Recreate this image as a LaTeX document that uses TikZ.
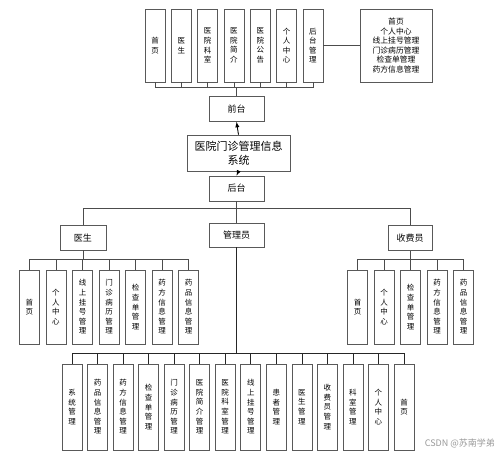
\documentclass[tikz,border=0pt]{standalone}
\usepackage{fontspec}
\setmainfont{Noto Sans CJK SC}
\usetikzlibrary{arrows,positioning}

\begin{document}
\begin{tikzpicture}
	[x=1pt,y=-1pt,>=latex,line width=0.6pt,
		vbox/.style={rectangle,draw=black!65,inner sep=0pt,minimum width=20pt,align=center,font=\fontsize{7.5}{9.6}\selectfont},
		mid node/.style={rectangle,draw=black!65,inner sep=0pt,minimum width=55pt,minimum height=25pt,font=\fontsize{9}{9}\selectfont},
		link/.style={draw=black!70},
		tree/.style={to path={-- ++(0,#1) -| (\tikztotarget)}}]

	\path[use as bounding box,fill=white] (0,0) rectangle (499,455);

	% front pages
	\begin{scope}[node distance=26.33pt,every node/.append style={minimum height=73pt}]
	\node[vbox] (t1) at (155,45.5) {首\\页};
	\node[vbox] [right of=t1] (t2) {医\\生};
	\node[vbox] [right of=t2] (t3) {医\\院\\科\\室};
	\node[vbox] [right of=t3] (t4) {医\\院\\简\\介};
	\node[vbox] [right of=t4] (t5) {医\\院\\公\\告};
	\node[vbox] [right of=t5] (t6) {个\\人\\中\\心};
	\node[vbox] [right of=t6] (t7) {后\\台\\管\\理};
	\end{scope}
	\node[vbox,minimum width=72pt,minimum height=73pt,font=\fontsize{7.8}{9.5}\selectfont] (menu) at (396,45.5)
		{首页\\个人中心\\线上挂号管理\\门诊病历管理\\检查单管理\\药方信息管理};

	\node[mid node] (front) at (236.5,109) {前台};
	\node[mid node,minimum width=103pt,minimum height=36pt,align=center,font=\fontsize{11}{14}\selectfont] (sys) at (238.5,153) {医院门诊管理信息\\系统};
	\node[mid node] (back) at (236.5,188.5) {后台};

	\node[mid node,minimum width=46pt] (doc) at (83,237.5) {医生};
	\node[mid node,minimum height=24pt] (admin) at (236.5,235) {管理员};
	\node[mid node,minimum width=44pt] (cash) at (410,238) {收费员};

	% doctor pages
	\begin{scope}[node distance=26.5pt,every node/.append style={minimum height=74pt}]
	\node[vbox] (d1) at (29.5,307) {首\\页};
	\node[vbox] [right of=d1] (d2) {个\\人\\中\\心};
	\node[vbox] [right of=d2] (d3) {线\\上\\挂\\号\\管\\理};
	\node[vbox] [right of=d3] (d4) {门\\诊\\病\\历\\管\\理};
	\node[vbox] [right of=d4] (d5) {检\\查\\单\\管\\理};
	\node[vbox] [right of=d5] (d6) {药\\方\\信\\息\\管\\理};
	\node[vbox] [right of=d6] (d7) {药\\品\\信\\息\\管\\理};
	\end{scope}

	% cashier pages
	\begin{scope}[node distance=26.5pt,every node/.append style={minimum height=74pt}]
	\node[vbox] (c1) at (357.5,307) {首\\页};
	\node[vbox] [right of=c1] (c2) {个\\人\\中\\心};
	\node[vbox] [right of=c2] (c3) {检\\查\\单\\管\\理};
	\node[vbox] [right of=c3] (c4) {药\\方\\信\\息\\管\\理};
	\node[vbox] [right of=c4] (c5) {药\\品\\信\\息\\管\\理};
	\end{scope}

	% admin pages
	\begin{scope}[node distance=25.54pt,every node/.append style={minimum height=86pt}]
	\node[vbox] (a1) at (72,407) {系\\统\\管\\理};
	\node[vbox] [right of=a1] (a2) {药\\品\\信\\息\\管\\理};
	\node[vbox] [right of=a2] (a3) {药\\方\\信\\息\\管\\理};
	\node[vbox] [right of=a3] (a4) {检\\查\\单\\管\\理};
	\node[vbox] [right of=a4] (a5) {门\\诊\\病\\历\\管\\理};
	\node[vbox] [right of=a5] (a6) {医\\院\\简\\介\\管\\理};
	\node[vbox] [right of=a6] (a7) {医\\院\\科\\室\\管\\理};
	\node[vbox] [right of=a7] (a8) {线\\上\\挂\\号\\管\\理};
	\node[vbox] [right of=a8] (a9) {患\\者\\管\\理};
	\node[vbox] [right of=a9] (a10) {医\\生\\管\\理};
	\node[vbox] [right of=a10] (a11) {收\\费\\员\\管\\理};
	\node[vbox] [right of=a11] (a12) {科\\室\\管\\理};
	\node[vbox] [right of=a12] (a13) {个\\人\\中\\心};
	\node[vbox] [right of=a13] (a14) {首\\页};
	\end{scope}

	\node[anchor=east,text=black!40,font=\fontsize{9}{9}\selectfont] (mark) at (498.5,443) {CSDN @苏南学弟};

	\path[link]
	(t1.south) edge [tree=5] (front.north)
	(t2.south) edge [tree=5] (front.north)
	(t3.south) edge [tree=5] (front.north)
	(t4.south) edge [tree=5] (front.north)
	(t5.south) edge [tree=5] (front.north)
	(t6.south) edge [tree=5] (front.north)
	(t7.south) edge [tree=5] (front.north)
	(t7.east) edge (menu.west)

	(sys.north) edge [->,draw=black,line width=0.9pt] (front.south)
	(sys.south) edge [->,draw=black,line width=0.9pt] (back.north)

	(doc.north) edge [tree=-16] (back.south)
	(cash.north) edge [tree=-17] (back.south)
	(admin.north) edge (back.south)

	(d1.north) edge [tree=-10] (doc.south)
	(d2.north) edge [tree=-10] (doc.south)
	(d3.north) edge [tree=-10] (doc.south)
	(d4.north) edge [tree=-10] (doc.south)
	(d5.north) edge [tree=-10] (doc.south)
	(d6.north) edge [tree=-10] (doc.south)
	(d7.north) edge [tree=-10] (doc.south)

	(c1.north) edge [tree=-10] (cash.south)
	(c2.north) edge [tree=-10] (cash.south)
	(c3.north) edge [tree=-10] (cash.south)
	(c4.north) edge [tree=-10] (cash.south)
	(c5.north) edge [tree=-10] (cash.south)
	;

	\path[link,draw=black!85]
	(a1.north) edge [tree=-10] (admin.south)
	(a2.north) edge [tree=-10] (admin.south)
	(a3.north) edge [tree=-10] (admin.south)
	(a4.north) edge [tree=-10] (admin.south)
	(a5.north) edge [tree=-10] (admin.south)
	(a6.north) edge [tree=-10] (admin.south)
	(a7.north) edge [tree=-10] (admin.south)
	(a8.north) edge [tree=-10] (admin.south)
	(a9.north) edge [tree=-10] (admin.south)
	(a10.north) edge [tree=-10] (admin.south)
	(a11.north) edge [tree=-10] (admin.south)
	(a12.north) edge [tree=-10] (admin.south)
	(a13.north) edge [tree=-10] (admin.south)
	(a14.north) edge [tree=-10] (admin.south)
	;

\end{tikzpicture}
\end{document}
